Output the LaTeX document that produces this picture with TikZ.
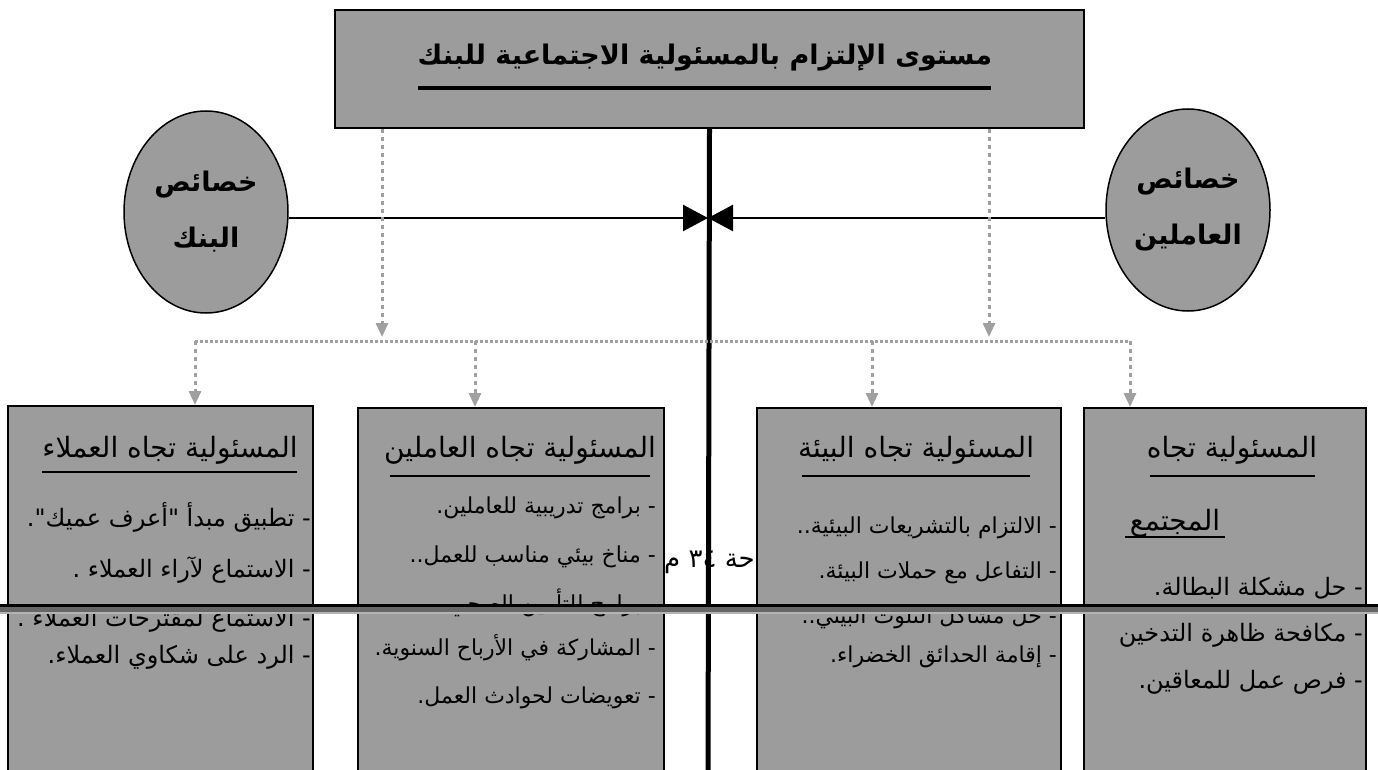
\documentclass[tikz,border=0pt]{standalone}
\usepackage{fontspec}
\usepackage{xcolor}
\usepackage{tikz}
\usetikzlibrary{shapes.geometric,arrows.meta}
\TeXXeTstate=1
\newfontfamily\arabicfont[Script=Arabic]{DejaVu Sans}
\definecolor{shade}{HTML}{9C9C9C}
\definecolor{dashgray}{HTML}{A0A0A0}
\definecolor{bardark}{HTML}{666666}
\definecolor{barlight}{HTML}{B4B4B4}
\tikzset{
  panel/.style={draw=black, line width=2pt, fill=shade, inner sep=0pt, anchor=north west},
  oval/.style={ellipse, draw=black, line width=1.5pt, fill=shade, inner sep=0pt, minimum width=164pt, minimum height=202pt},
  spine/.style={draw=black, line width=5pt},
  barrow/.style={draw=black, line width=2.5pt, -{Triangle[length=25pt,width=26pt]}},
  garrow/.style={draw=dashgray, line width=3pt, dash pattern=on 4pt off 4pt, -{Triangle[length=14pt,width=12pt]}},
  gdots/.style={draw=dashgray, line width=3pt, dash pattern=on 3pt off 2pt},
  uline/.style={draw=black, line width=2pt},
  headtxt/.style={font=\arabicfont\bfseries\fontsize{27}{32}\selectfont, inner sep=0pt},
  ovaltxt/.style={font=\arabicfont\bfseries\fontsize{27}{56}\selectfont, align=center},
  captxt/.style={font=\arabicfont\fontsize{28}{32}\selectfont, inner sep=0pt},
  itemtxt/.style={font=\arabicfont\fontsize{22}{26}\selectfont, anchor=east, inner sep=0pt},
  custitem/.style={itemtxt, font=\arabicfont\fontsize{24}{28}\selectfont},
  bigitem/.style={itemtxt, font=\arabicfont\fontsize{24}{28}\selectfont},
  pagetxt/.style={itemtxt, font=\arabicfont\fontsize{26}{30}\selectfont}
}
\begin{document}
\begin{tikzpicture}[x=1pt, y=-1pt]
  \path[use as bounding box, fill=white] (0,0) rectangle (1378,770);

  \coordinate (meet) at (708,218);
  \coordinate (foot) at (708,775);
  \coordinate (dl) at (382,337);
  \coordinate (dr) at (989,337);
  \coordinate (hl) at (195,341);
  \coordinate (h2) at (475,341);
  \coordinate (h3) at (872,341);
  \coordinate (hr) at (1130,341);

  \node[pagetxt] (page) at (755,562) {\beginR حة \beginL ٣٤\endL{} م\endR};

  \node[panel, minimum width=749pt, minimum height=118pt] (head) at (334,9) {};
  \node[headtxt] (headlbl) at (705,58) {\beginR مستوى الإلتزام بالمسئولية الاجتماعية للبنك\endR};
  \draw[line width=3.5pt] (418,88) -- (991,88);

  \draw[spine] (head.south) -- (foot);

  \node[oval] (bank) at (206,212) {};
  \node[ovaltxt] (banklbl) at (bank.center) {\beginR خصائص\endR\\\beginR البنك\endR};
  \node[oval] (workers) at (1188,210) {};
  \node[ovaltxt] (workerslbl) at (workers.center) {\beginR خصائص\endR\\\beginR العاملين\endR};

  \draw[barrow] (meet -| bank.east) -- (meet);
  \draw[barrow] (meet -| workers.west) -- (meet);

  \node[panel, minimum width=305pt, minimum height=385pt] (cust) at (7,405) {};
  \node[panel, minimum width=306pt, minimum height=385pt] (staff) at (357,407) {};
  \node[panel, minimum width=304pt, minimum height=385pt] (env) at (756,407) {};
  \node[panel, minimum width=282pt, minimum height=385pt] (soc) at (1083,407) {};

  \draw[garrow] (head.south -| dl) -- (dl);
  \draw[garrow] (head.south -| dr) -- (dr);
  \draw[gdots] (hl) -- (hr);
  \draw[garrow] (hl) -- (cust.north -| hl);
  \draw[garrow] (h2) -- (staff.north -| h2);
  \draw[garrow] (h3) -- (env.north -| h3);
  \draw[garrow] (hr) -- (soc.north -| hr);

  \node[captxt] (custlbl) at (170,450) {\beginR المسئولية تجاه العملاء\endR};
  \draw[uline] (42,472) -- (297,472);
  \node[custitem] (c1) at (311,517) {\beginR - تطبيق مبدأ "أعرف عميك".\endR};
  \node[custitem] (c2) at (311,570) {\beginR - الاستماع لآراء العملاء .\endR};
  \node[custitem] (c3) at (311,620) {\beginR - الاستماع لمقترحات العملاء .\endR};
  \node[custitem] (c4) at (311,657) {\beginR - الرد على شكاوي العملاء.\endR};

  \node[captxt] (stafflbl) at (520,450) {\beginR المسئولية تجاه العاملين\endR};
  \draw[uline] (390,476) -- (650,476);
  \node[itemtxt] (s1) at (656,508) {\beginR - برامج تدريبية للعاملين.\endR};
  \node[itemtxt] (s2) at (656,557) {\beginR - مناخ بيئي مناسب للعمل..\endR};
  \node[itemtxt] (s3) at (656,603) {\beginR - برامج للتأمين الصحي\endR};
  \node[itemtxt] (s4) at (656,648) {\beginR - المشاركة في الأرباح السنوية.\endR};
  \node[itemtxt] (s5) at (656,698) {\beginR - تعويضات لحوادث العمل.\endR};

  \node[captxt] (envlbl) at (916,450) {\beginR المسئولية تجاه البيئة\endR};
  \draw[uline] (802,476) -- (1030,476);
  \node[itemtxt] (e1) at (1057,528) {\beginR - الالتزام بالتشريعات البيئية..\endR};
  \node[itemtxt] (e2) at (1057,573) {\beginR - التفاعل مع حملات البيئة.\endR};
  \node[itemtxt] (e3) at (1057,618) {\beginR - حل مشاكل التلوث البيئي..\endR};
  \node[itemtxt] (e4) at (1057,657) {\beginR - إقامة الحدائق الخضراء.\endR};

  \node[captxt] (soclbl) at (1232,450) {\beginR المسئولية تجاه\endR};
  \draw[uline] (1150,476) -- (1315,476);
  \node[captxt] (soclbl2) at (1175,523) {\beginR المجتمع\endR};
  \draw[uline] (1125,537) -- (1225,537);
  \node[bigitem] (m1) at (1363,588) {\beginR - حل مشكلة البطالة.\endR};
  \node[bigitem] (m2) at (1363,635) {\beginR - مكافحة ظاهرة التدخين\endR};
  \node[bigitem] (m3) at (1363,682) {\beginR - فرص عمل للمعاقين.\endR};

  \fill[black] (0,604) rectangle (1378,607);
  \fill[bardark] (0,607) rectangle (1378,612);
  \fill[barlight] (0,612) rectangle (1378,614);
\end{tikzpicture}
\end{document}
